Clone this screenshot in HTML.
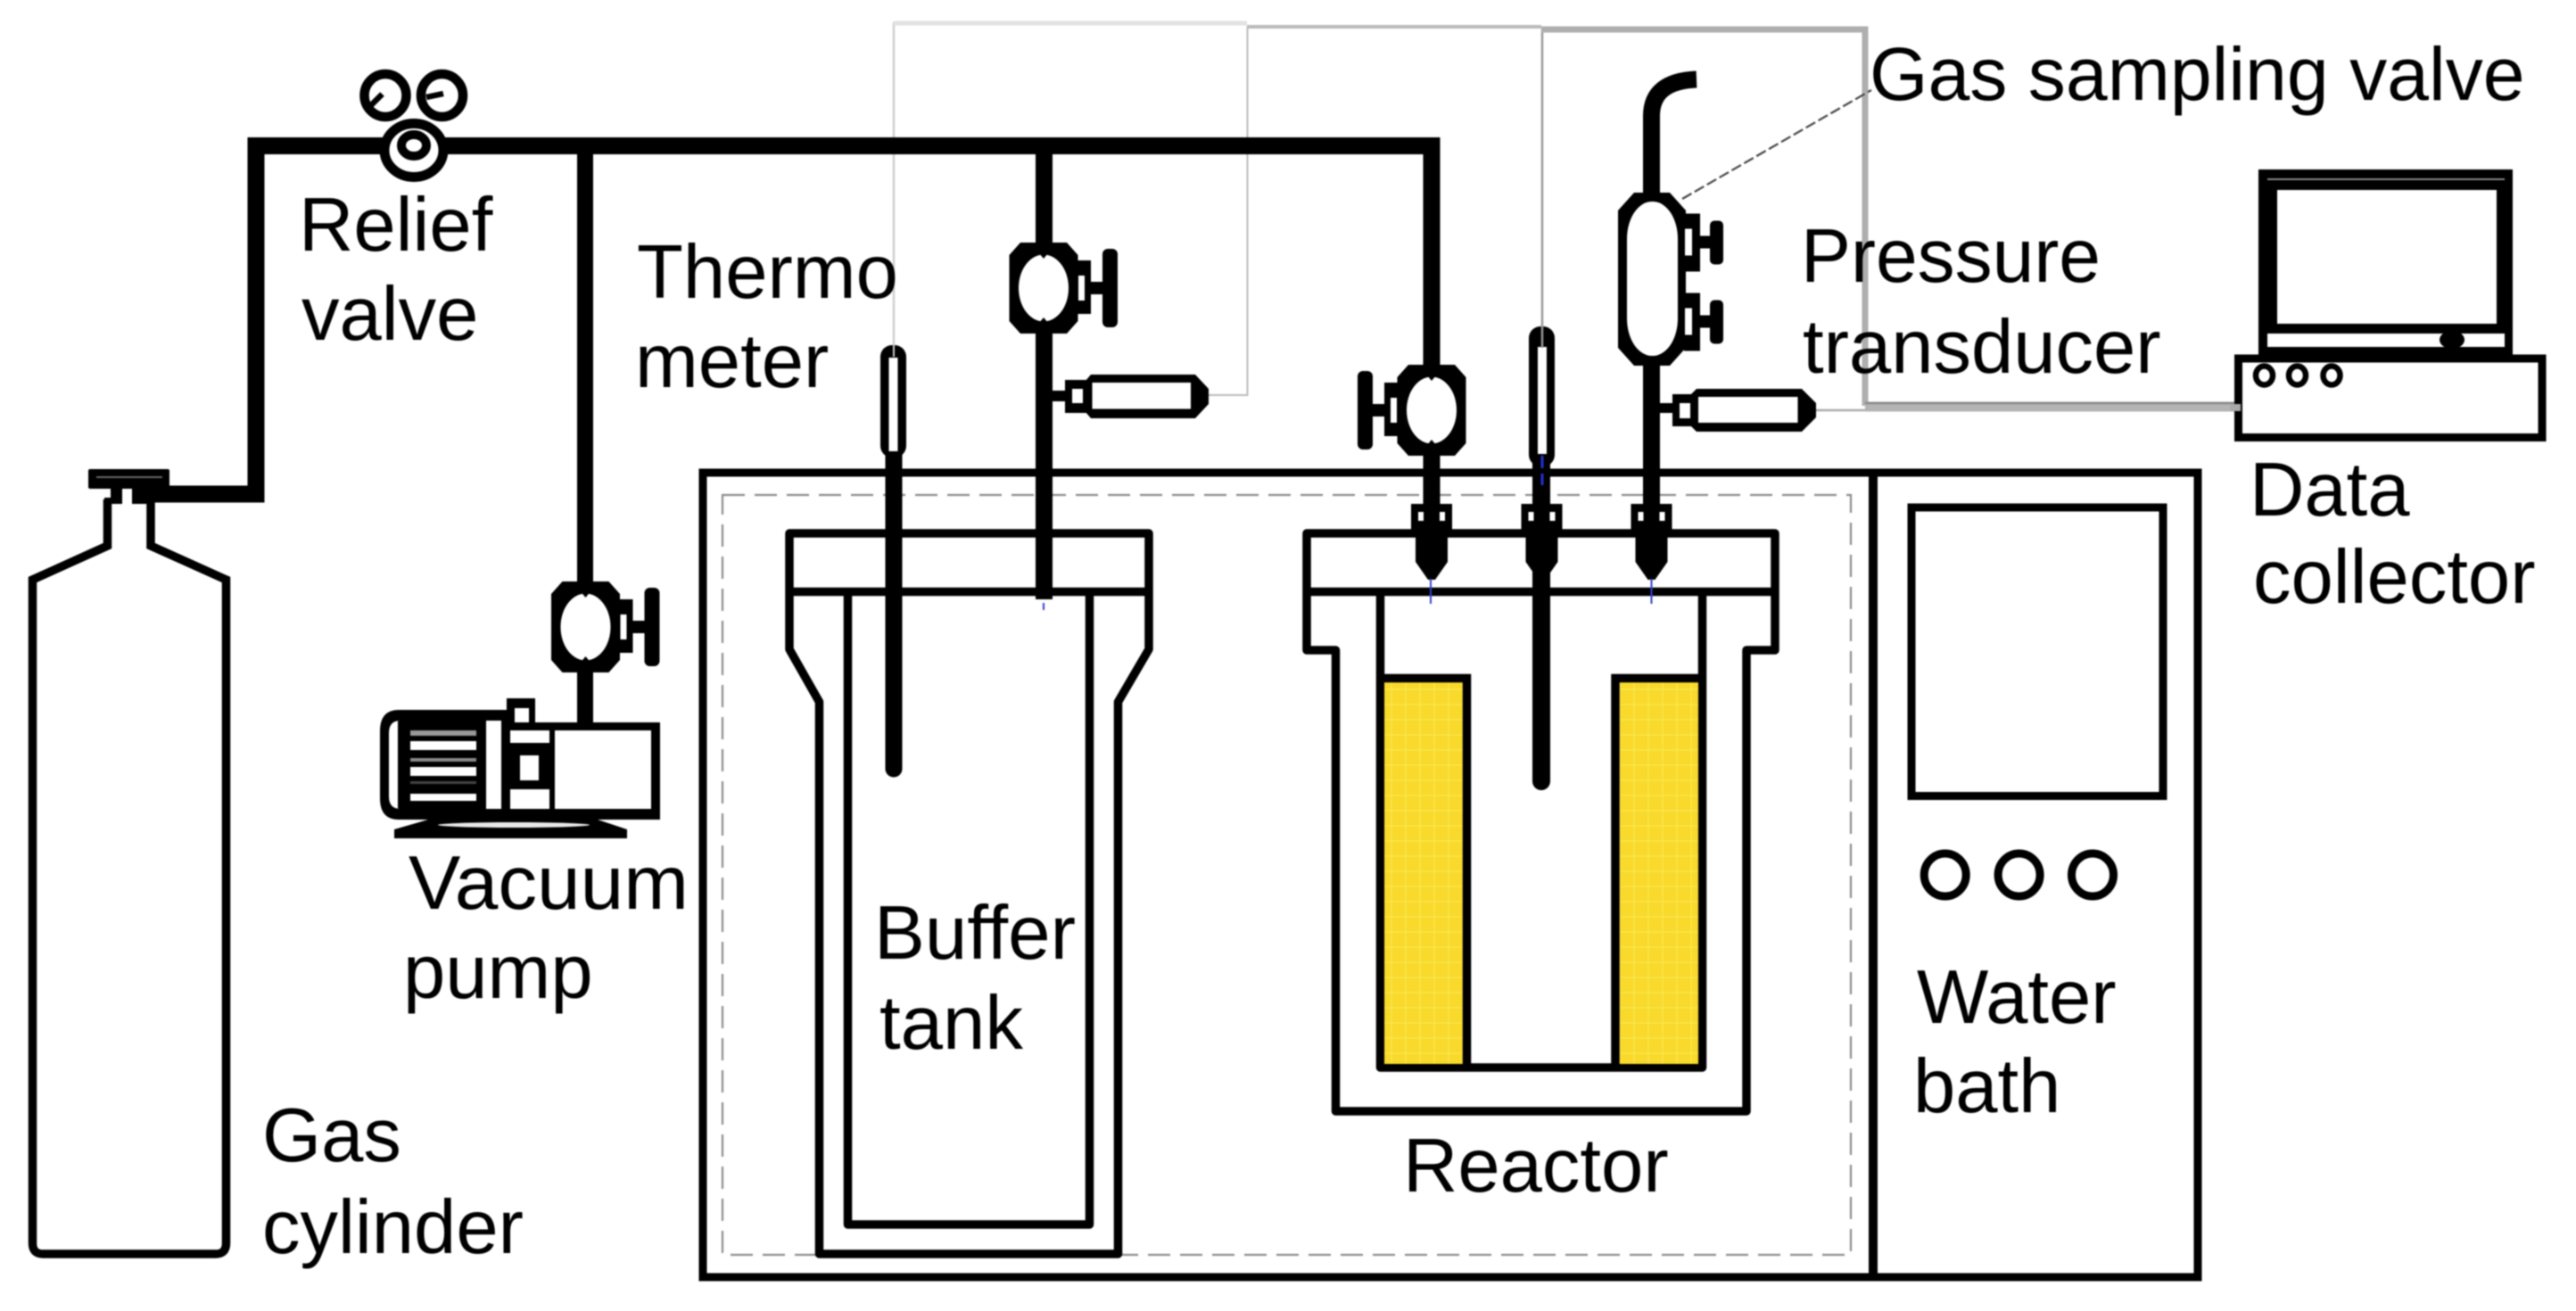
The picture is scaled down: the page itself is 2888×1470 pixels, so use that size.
<!DOCTYPE html>
<html><head><meta charset="utf-8"><style>
html,body{margin:0;padding:0;background:#fff}
svg{display:block;filter:blur(.8px)}
text{font-family:"Liberation Sans",sans-serif;font-size:85px;fill:#000}
</style></head><body>
<svg xmlns="http://www.w3.org/2000/svg" width="2888" height="1470" viewBox="0 0 2888 1470">
<defs>
<pattern id="g" width="16" height="17" patternUnits="userSpaceOnUse"><rect width="16" height="17" fill="#f8d92c"/><path d="M8 0V17M0 8H16" stroke="#fbe548" stroke-width="1.5"/></pattern>
<g id="v">
<polygon points="-26,-51 26,-51 38.5,-37 38.5,37 26,51 -26,51 -38.5,37 -38.5,-37" fill="#000"/>
<ellipse rx="28" ry="37.5" fill="#fff"/>
<polygon points="-5,-39 5,-39 0,-33" fill="#000"/>
<polygon points="-5,39 5,39 0,33" fill="#000"/>
<rect x="38" y="-31" width="15" height="60" fill="#000"/>
<rect x="39" y="-14" width="7" height="28" fill="#fff"/>
<rect x="52" y="-7" width="15" height="14" fill="#000"/>
<rect x="66" y="-44" width="17" height="88" rx="6" fill="#000"/>
</g>
<g id="h">
<rect x="0" y="-32" width="18" height="65" fill="#000"/>
<rect x="1" y="-15" width="8" height="30" fill="#fff"/>
<rect x="17" y="-7" width="13" height="14" fill="#000"/>
<rect x="29" y="-24" width="15" height="49" rx="5" fill="#000"/>
</g>
<g id="f">
<rect x="-23" y="565" width="46" height="31" fill="#000"/>
<rect x="-15" y="574" width="6" height="10" fill="#fff"/>
<rect x="9" y="574" width="6" height="10" fill="#fff"/>
<polygon points="-18,595 18,595 18,630 4,650 -4,650 -18,630" fill="#000"/>
</g>
</defs>
<rect width="2888" height="1470" fill="#fff"/>

<!-- instrument wiring -->
<g fill="none">
<path d="M1002 389V26H1398" stroke="#cfcfcf" stroke-width="2.5"/>
<path d="M1002 26H1398" stroke="#e2e2e2" stroke-width="5"/>
<path d="M1354 443H1398.5V30" stroke="#bbb" stroke-width="2"/>
<path d="M1398 30H1728" stroke="#bbb" stroke-width="4"/>
<path d="M1729 33V392" stroke="#999" stroke-width="2.5"/>
<path d="M1728 33H2091V455" stroke="#aeaeae" stroke-width="7"/>
<path d="M2091 456H2510" stroke="#b4b4b4" stroke-width="11"/>
<path d="M2091 452H2510" stroke="#8a8a8a" stroke-width="2.5"/>
<path d="M2030 460H2091" stroke="#aaa" stroke-width="2.5"/>
<path d="M1886 223L2098 101" stroke="#444" stroke-width="2.2" stroke-dasharray="12 4"/>
</g>

<!-- water bath -->
<rect x="788" y="530" width="1676" height="902" fill="none" stroke="#000" stroke-width="9"/>
<path d="M2100 530V1432" stroke="#000" stroke-width="10"/>
<rect x="810" y="555" width="1265" height="852" fill="none" stroke="#8d8d8d" stroke-width="2.2" stroke-dasharray="25 11"/>
<rect x="2143" y="569" width="282" height="323.5" fill="#fff" stroke="#000" stroke-width="9"/>
<g fill="none" stroke="#000" stroke-width="9">
<ellipse cx="2180.7" cy="981" rx="23.5" ry="24"/>
<ellipse cx="2263.6" cy="981" rx="23.5" ry="24"/>
<ellipse cx="2346" cy="981" rx="23.5" ry="24"/>
</g>

<!-- buffer tank -->
<g fill="#fff" stroke="#000" stroke-width="9.5" stroke-linejoin="round">
<path d="M885 598H1288V728L1253.5 787V1406H918.5V787L885 728Z"/>
<path d="M885 663.5H1288" fill="none"/>
<path d="M950.5 663.5V1373H1221.5V663.5" fill="none"/>
</g>

<!-- reactor -->
<g fill="#fff" stroke="#000" stroke-width="9.5" stroke-linejoin="round">
<path d="M1465 598H1990V729H1958V1246H1497.5V729H1465Z"/>
<path d="M1465 663.5H1990" fill="none"/>
<path d="M1547.5 663.5V1197H1908.5V663.5" fill="none"/>
</g>
<rect x="1552" y="765" width="88" height="428" fill="url(#g)"/>
<rect x="1815" y="765" width="89" height="428" fill="url(#g)"/>
<path d="M1547.5 760.5H1644.5V1197" fill="none" stroke="#000" stroke-width="9.5"/>
<path d="M1908.5 760.5H1811V1197" fill="none" stroke="#000" stroke-width="9.5"/>

<!-- main gas pipes -->
<g fill="none" stroke="#000" stroke-width="19">
<path d="M153 554H287V163.5H1605V565" stroke-linejoin="miter"/>
<path d="M656 163.5V815" stroke-width="18"/>
<path d="M1170.5 163.5V672"/>
<path d="M1851.5 225V130Q1851.5 91 1902 89"/>
<path d="M1851.5 405V570"/>
<path d="M1002 500V862" stroke-linecap="round"/>
<path d="M1728 515V876" stroke-linecap="round" stroke-width="20"/>
</g>
<path d="M153 554H190" stroke="#000" stroke-width="19"/>

<!-- gas cylinder -->
<path d="M120.5 560V612L36.5 650V1394Q36.5 1406 48 1406H242Q253.5 1406 253.5 1394V650L169 612V560" fill="#fff" stroke="#000" stroke-width="9.5"/>
<rect x="99" y="526" width="91" height="22" rx="2" fill="#000"/>
<rect x="108" y="534" width="74" height="2" fill="#666"/>
<rect x="117" y="558" width="20" height="7" fill="#000"/>
<rect x="124" y="547" width="13" height="18" fill="#000"/>
<rect x="148" y="547" width="25" height="18" fill="#000"/>

<!-- relief valve -->
<g fill="#fff" stroke="#000">
<ellipse cx="432" cy="107" rx="23.5" ry="24" stroke-width="10.5"/>
<ellipse cx="495.5" cy="107" rx="23.5" ry="24" stroke-width="10.5"/>
<ellipse cx="464" cy="168.5" rx="33" ry="30" stroke-width="11"/>
<ellipse cx="464" cy="163" rx="14" ry="12" stroke-width="10"/>
</g>
<path d="M414.5 119.5L428.5 105.5M478 109L497 105" stroke="#000" stroke-width="6.5" fill="none"/>

<!-- valves -->
<use href="#v" transform="translate(656.5 703)"/>
<use href="#v" transform="translate(1170 323)"/>
<use href="#v" transform="translate(1605 460) scale(-1 1)"/>

<!-- sampling valve -->
<path d="M1832 216H1872L1890 236V390L1872 410H1832L1814 390V236Z" fill="#000"/>
<rect x="1824" y="226" width="57" height="173" rx="28" ry="42" fill="#fff"/>
<use href="#h" transform="translate(1888 271.5)"/>
<use href="#h" transform="translate(1888 360.5)"/>

<!-- transducers -->
<g>
<rect x="1180" y="438" width="16" height="12" fill="#000"/>
<rect x="1194" y="426" width="24" height="37" fill="#000"/>
<rect x="1202" y="436" width="12" height="16" fill="#fff"/>
<path d="M1223 420H1340L1355 436V453L1340 469H1223L1217 462V427Z" fill="#000"/>
<rect x="1224.5" y="429" width="110.5" height="29.5" fill="#fff"/>
<rect x="1861" y="452" width="15" height="11" fill="#000"/>
<rect x="1875" y="442" width="22" height="36" fill="#000"/>
<rect x="1883" y="452" width="12" height="17" fill="#fff"/>
<path d="M1902 436H2020L2036 452V468L2020 484H1902L1896 478V442Z" fill="#000"/>
<rect x="1904" y="445" width="111.5" height="29" fill="#fff"/>
</g>

<!-- thermometers -->
<g>
<rect x="987" y="387" width="29" height="126" rx="13" fill="#000"/>
<rect x="996.5" y="401" width="10" height="105" fill="#fff"/>
<rect x="1714" y="366" width="29" height="157" rx="13" fill="#000"/>
<rect x="1724" y="389" width="10" height="120" fill="#fff"/>
</g>
<path d="M1002 387V400" stroke="#ccc" stroke-width="2"/>
<path d="M1729 366V390" stroke="#999" stroke-width="2.5"/>

<!-- fittings -->
<use href="#f" transform="translate(1605 0)"/>
<use href="#f" transform="translate(1728.5 0)"/>
<use href="#f" transform="translate(1851.5 0)"/>
<path d="M1604 649V677M1851.5 649V677M1170 676V684" stroke="#3340d0" stroke-width="2"/>
<path d="M1729 511V544" stroke="#2230d8" stroke-width="3" stroke-dasharray="14 6"/>

<!-- vacuum pump -->
<g>
<path d="M447 796H568V919H447Q426 919 426 895V820Q426 796 447 796Z" fill="#000"/>
<path d="M449 808Q436 808 436 822V893Q436 907 449 907H446V808Z" fill="#fff"/>
<g fill="#fff">
<rect x="460" y="819" width="74" height="6" fill="#999"/>
<rect x="460" y="831" width="74" height="10"/>
<rect x="460" y="850" width="74" height="4" fill="#888"/>
<rect x="460" y="860" width="74" height="10"/>
<rect x="460" y="876" width="74" height="3" fill="#444"/>
<rect x="460" y="890" width="74" height="8"/>
<rect x="545" y="808" width="17" height="99"/>
</g>
<rect x="568" y="783" width="32" height="30" fill="#000"/>
<rect x="577" y="794" width="16" height="20" fill="#fff"/>
<rect x="566" y="810" width="174" height="109" fill="#000"/>
<rect x="622" y="819" width="108" height="88" fill="#fff"/>
<rect x="572" y="819" width="44" height="14" fill="#fff"/>
<rect x="583" y="847" width="21" height="28" fill="#fff"/>
<rect x="572" y="885" width="44" height="22" fill="#fff"/>
<polygon points="442,930 480,919 670,919 703,930 703,940 442,940" fill="#000"/>
<ellipse cx="576" cy="925" rx="85" ry="3" fill="#e8e8e8"/>
</g>

<!-- computer / data collector -->
<g>
<rect x="2532" y="190" width="285" height="210" fill="#000"/>
<rect x="2542" y="200" width="266" height="2" fill="#888"/>
<rect x="2553" y="213" width="246" height="150" fill="#fff"/>
<rect x="2542" y="374" width="266" height="15" fill="#fff"/>
<ellipse cx="2749" cy="381" rx="14" ry="10" fill="#000"/>
<rect x="2509.5" y="402" width="340.5" height="88.5" fill="#fff" stroke="#000" stroke-width="9"/>
<g fill="none" stroke="#000" stroke-width="6.5">
<ellipse cx="2538.5" cy="421" rx="9.5" ry="10.5"/>
<ellipse cx="2575.5" cy="421" rx="9.5" ry="10.5"/>
<ellipse cx="2614" cy="421" rx="9.5" ry="10.5"/>
</g>
</g>
<path d="M2500 457H2512" stroke="#aaa" stroke-width="8"/>

<!-- labels -->
<text x="335" y="281">Relief</text>
<text x="338" y="381">valve</text>
<text x="714" y="334">Thermo</text>
<text x="712" y="434">meter</text>
<text x="458" y="1019" textLength="314" lengthAdjust="spacingAndGlyphs">Vacuum</text>
<text x="452" y="1119">pump</text>
<text x="294" y="1302">Gas</text>
<text x="294" y="1405">cylinder</text>
<text x="980" y="1075" textLength="226" lengthAdjust="spacingAndGlyphs">Buffer</text>
<text x="986" y="1176" textLength="161" lengthAdjust="spacingAndGlyphs">tank</text>
<text x="1573" y="1336">Reactor</text>
<text x="2149" y="1147">Water</text>
<text x="2145" y="1247">bath</text>
<text x="2522" y="578">Data</text>
<text x="2526" y="676">collector</text>
<text x="2096" y="112" style="font-size:84.2px">Gas sampling valve</text>
<text x="2019" y="316" textLength="336" lengthAdjust="spacingAndGlyphs">Pressure</text>
<text x="2021" y="418">transducer</text>
</svg>
</body></html>
